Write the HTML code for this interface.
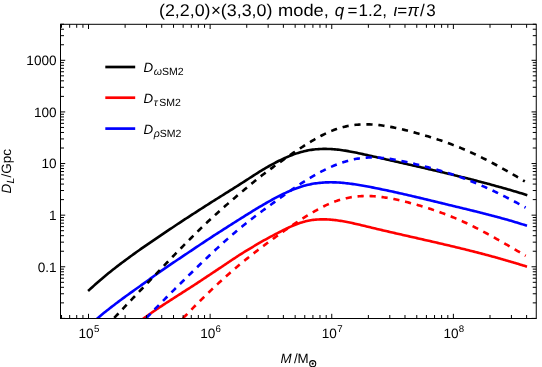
<!DOCTYPE html>
<html><head><meta charset="utf-8"><title>plot</title>
<style>
html,body{margin:0;padding:0;background:#fff;}
body{width:542px;height:367px;position:relative;overflow:hidden;font-family:"Liberation Sans",sans-serif;}
</style></head><body>
<svg width="542" height="367" viewBox="0 0 542 367" style="position:absolute;left:0;top:0;will-change:transform;text-rendering:geometricPrecision">
<defs><clipPath id="c"><rect x="60.5" y="24.3" width="475.75" height="294.2"/></clipPath></defs>
<g clip-path="url(#c)" fill="none" stroke-width="2.6" stroke-linejoin="round">
<path d="M88.10,290.98 L89.57,289.61 L91.04,288.26 L92.51,286.92 L93.98,285.59 L95.44,284.28 L96.91,282.98 L98.38,281.70 L99.85,280.43 L101.32,279.18 L102.79,277.94 L104.26,276.71 L105.73,275.49 L107.20,274.29 L108.66,273.09 L110.13,271.91 L111.60,270.74 L113.07,269.58 L114.54,268.42 L116.01,267.28 L117.48,266.15 L118.95,265.02 L120.42,263.90 L121.88,262.79 L123.35,261.69 L124.82,260.60 L126.29,259.51 L127.76,258.43 L129.23,257.35 L130.70,256.28 L132.17,255.22 L133.64,254.15 L135.10,253.10 L136.57,252.04 L138.04,251.00 L139.51,249.95 L140.98,248.91 L142.45,247.88 L143.92,246.86 L145.39,245.85 L146.86,244.84 L148.32,243.84 L149.79,242.84 L151.26,241.85 L152.73,240.85 L154.20,239.85 L155.67,238.85 L157.14,237.85 L158.61,236.86 L160.08,235.87 L161.54,234.88 L163.01,233.89 L164.48,232.90 L165.95,231.92 L167.42,230.93 L168.89,229.94 L170.36,228.95 L171.83,227.96 L173.30,226.98 L174.76,226.00 L176.23,225.02 L177.70,224.04 L179.17,223.07 L180.64,222.10 L182.11,221.13 L183.58,220.17 L185.05,219.21 L186.52,218.25 L187.98,217.29 L189.45,216.34 L190.92,215.38 L192.39,214.43 L193.86,213.49 L195.33,212.54 L196.80,211.59 L198.27,210.65 L199.74,209.71 L201.21,208.77 L202.67,207.83 L204.14,206.89 L205.61,205.95 L207.08,205.01 L208.55,204.07 L210.02,203.13 L211.49,202.20 L212.96,201.27 L214.43,200.35 L215.89,199.42 L217.36,198.50 L218.83,197.58 L220.30,196.66 L221.77,195.74 L223.24,194.82 L224.71,193.90 L226.18,192.97 L227.65,192.05 L229.11,191.13 L230.58,190.21 L232.05,189.28 L233.52,188.36 L234.99,187.43 L236.46,186.50 L237.93,185.57 L239.40,184.63 L240.87,183.70 L242.33,182.75 L243.80,181.81 L245.27,180.87 L246.74,179.92 L248.21,178.98 L249.68,178.03 L251.15,177.09 L252.62,176.14 L254.09,175.20 L255.55,174.25 L257.02,173.32 L258.49,172.39 L259.96,171.47 L261.43,170.56 L262.90,169.67 L264.37,168.79 L265.84,167.93 L267.31,167.09 L268.77,166.25 L270.24,165.43 L271.71,164.62 L273.18,163.82 L274.65,163.03 L276.12,162.26 L277.59,161.51 L279.06,160.77 L280.53,160.04 L281.99,159.34 L283.46,158.65 L284.93,157.98 L286.40,157.33 L287.87,156.70 L289.34,156.09 L290.81,155.50 L292.28,154.93 L293.75,154.39 L295.21,153.87 L296.68,153.37 L298.15,152.90 L299.62,152.45 L301.09,152.03 L302.56,151.64 L304.03,151.27 L305.50,150.93 L306.97,150.62 L308.43,150.34 L309.90,150.08 L311.37,149.85 L312.84,149.65 L314.31,149.47 L315.78,149.32 L317.25,149.19 L318.72,149.09 L320.19,149.01 L321.65,148.95 L323.12,148.91 L324.59,148.90 L326.06,148.90 L327.53,148.93 L329.00,148.98 L330.47,149.05 L331.94,149.13 L333.41,149.24 L334.87,149.36 L336.34,149.50 L337.81,149.65 L339.28,149.82 L340.75,150.01 L342.22,150.21 L343.69,150.43 L345.16,150.65 L346.63,150.89 L348.09,151.15 L349.56,151.41 L351.03,151.68 L352.50,151.96 L353.97,152.25 L355.44,152.54 L356.91,152.85 L358.38,153.16 L359.85,153.47 L361.31,153.79 L362.78,154.12 L364.25,154.45 L365.72,154.78 L367.19,155.11 L368.66,155.44 L370.13,155.77 L371.60,156.11 L373.07,156.44 L374.53,156.77 L376.00,157.10 L377.47,157.44 L378.94,157.77 L380.41,158.10 L381.88,158.43 L383.35,158.76 L384.82,159.09 L386.29,159.42 L387.75,159.76 L389.22,160.09 L390.69,160.42 L392.16,160.75 L393.63,161.08 L395.10,161.41 L396.57,161.74 L398.04,162.07 L399.51,162.41 L400.97,162.74 L402.44,163.07 L403.91,163.40 L405.38,163.74 L406.85,164.07 L408.32,164.40 L409.79,164.74 L411.26,165.07 L412.73,165.41 L414.19,165.74 L415.66,166.08 L417.13,166.41 L418.60,166.75 L420.07,167.09 L421.54,167.43 L423.01,167.76 L424.48,168.10 L425.95,168.44 L427.42,168.78 L428.88,169.13 L430.35,169.47 L431.82,169.81 L433.29,170.16 L434.76,170.50 L436.23,170.85 L437.70,171.19 L439.17,171.54 L440.64,171.89 L442.10,172.24 L443.57,172.59 L445.04,172.94 L446.51,173.29 L447.98,173.65 L449.45,174.00 L450.92,174.36 L452.39,174.72 L453.86,175.08 L455.32,175.44 L456.79,175.80 L458.26,176.16 L459.73,176.52 L461.20,176.89 L462.67,177.25 L464.14,177.62 L465.61,177.99 L467.08,178.36 L468.54,178.74 L470.01,179.11 L471.48,179.48 L472.95,179.86 L474.42,180.24 L475.89,180.62 L477.36,181.00 L478.83,181.39 L480.30,181.77 L481.76,182.16 L483.23,182.55 L484.70,182.94 L486.17,183.33 L487.64,183.72 L489.11,184.12 L490.58,184.52 L492.05,184.92 L493.52,185.32 L494.98,185.72 L496.45,186.13 L497.92,186.53 L499.39,186.94 L500.86,187.35 L502.33,187.77 L503.80,188.18 L505.27,188.60 L506.74,189.02 L508.20,189.44 L509.67,189.87 L511.14,190.29 L512.61,190.72 L514.08,191.15 L515.55,191.59 L517.02,192.02 L518.49,192.46 L519.96,192.90 L521.42,193.34 L522.89,193.79 L524.36,194.24 L525.83,194.69 L527.30,195.14" stroke="#000"/>
<path d="M93.90,321.43 L95.35,320.18 L96.80,318.93 L98.25,317.69 L99.69,316.45 L101.14,315.23 L102.59,314.03 L104.04,312.85 L105.49,311.69 L106.94,310.54 L108.38,309.40 L109.83,308.27 L111.28,307.14 L112.73,306.02 L114.18,304.91 L115.63,303.80 L117.08,302.71 L118.52,301.62 L119.97,300.54 L121.42,299.47 L122.87,298.41 L124.32,297.35 L125.77,296.29 L127.22,295.24 L128.66,294.19 L130.11,293.14 L131.56,292.10 L133.01,291.07 L134.46,290.04 L135.91,289.02 L137.35,288.00 L138.80,286.98 L140.25,285.96 L141.70,284.93 L143.15,283.90 L144.60,282.85 L146.05,281.80 L147.49,280.75 L148.94,279.69 L150.39,278.64 L151.84,277.58 L153.29,276.52 L154.74,275.48 L156.19,274.43 L157.63,273.40 L159.08,272.37 L160.53,271.36 L161.98,270.35 L163.43,269.35 L164.88,268.35 L166.32,267.36 L167.77,266.37 L169.22,265.38 L170.67,264.40 L172.12,263.42 L173.57,262.44 L175.02,261.47 L176.46,260.50 L177.91,259.53 L179.36,258.56 L180.81,257.59 L182.26,256.62 L183.71,255.65 L185.16,254.69 L186.60,253.72 L188.05,252.75 L189.50,251.78 L190.95,250.81 L192.40,249.84 L193.85,248.86 L195.29,247.90 L196.74,246.93 L198.19,245.96 L199.64,245.00 L201.09,244.04 L202.54,243.08 L203.99,242.12 L205.43,241.16 L206.88,240.20 L208.33,239.25 L209.78,238.30 L211.23,237.35 L212.68,236.40 L214.13,235.46 L215.57,234.53 L217.02,233.60 L218.47,232.67 L219.92,231.75 L221.37,230.82 L222.82,229.89 L224.26,228.97 L225.71,228.04 L227.16,227.12 L228.61,226.20 L230.06,225.27 L231.51,224.35 L232.96,223.43 L234.40,222.52 L235.85,221.60 L237.30,220.68 L238.75,219.77 L240.20,218.85 L241.65,217.94 L243.09,217.03 L244.54,216.12 L245.99,215.22 L247.44,214.31 L248.89,213.41 L250.34,212.52 L251.79,211.62 L253.23,210.73 L254.68,209.85 L256.13,208.97 L257.58,208.10 L259.03,207.23 L260.48,206.37 L261.93,205.52 L263.37,204.67 L264.82,203.83 L266.27,203.00 L267.72,202.17 L269.17,201.36 L270.62,200.55 L272.06,199.75 L273.51,198.96 L274.96,198.18 L276.41,197.42 L277.86,196.66 L279.31,195.91 L280.76,195.18 L282.20,194.46 L283.65,193.76 L285.10,193.07 L286.55,192.40 L288.00,191.74 L289.45,191.10 L290.90,190.48 L292.34,189.87 L293.79,189.29 L295.24,188.73 L296.69,188.19 L298.14,187.67 L299.59,187.17 L301.03,186.70 L302.48,186.25 L303.93,185.83 L305.38,185.43 L306.83,185.06 L308.28,184.72 L309.73,184.40 L311.17,184.11 L312.62,183.84 L314.07,183.59 L315.52,183.37 L316.97,183.17 L318.42,182.99 L319.87,182.84 L321.31,182.70 L322.76,182.59 L324.21,182.50 L325.66,182.42 L327.11,182.37 L328.56,182.33 L330.00,182.32 L331.45,182.32 L332.90,182.34 L334.35,182.37 L335.80,182.42 L337.25,182.49 L338.70,182.57 L340.14,182.67 L341.59,182.78 L343.04,182.90 L344.49,183.03 L345.94,183.18 L347.39,183.34 L348.84,183.52 L350.28,183.70 L351.73,183.89 L353.18,184.09 L354.63,184.31 L356.08,184.53 L357.53,184.76 L358.97,184.99 L360.42,185.24 L361.87,185.48 L363.32,185.74 L364.77,186.00 L366.22,186.27 L367.67,186.54 L369.11,186.81 L370.56,187.09 L372.01,187.37 L373.46,187.65 L374.91,187.94 L376.36,188.23 L377.81,188.52 L379.25,188.82 L380.70,189.11 L382.15,189.41 L383.60,189.72 L385.05,190.02 L386.50,190.33 L387.94,190.64 L389.39,190.95 L390.84,191.26 L392.29,191.58 L393.74,191.89 L395.19,192.21 L396.64,192.54 L398.08,192.86 L399.53,193.18 L400.98,193.51 L402.43,193.84 L403.88,194.17 L405.33,194.50 L406.77,194.84 L408.22,195.17 L409.67,195.51 L411.12,195.84 L412.57,196.18 L414.02,196.52 L415.47,196.86 L416.91,197.21 L418.36,197.55 L419.81,197.89 L421.26,198.24 L422.71,198.59 L424.16,198.93 L425.61,199.28 L427.05,199.63 L428.50,199.98 L429.95,200.33 L431.40,200.68 L432.85,201.03 L434.30,201.38 L435.74,201.73 L437.19,202.08 L438.64,202.43 L440.09,202.78 L441.54,203.13 L442.99,203.48 L444.44,203.84 L445.88,204.19 L447.33,204.54 L448.78,204.89 L450.23,205.24 L451.68,205.59 L453.13,205.94 L454.58,206.29 L456.02,206.64 L457.47,206.99 L458.92,207.34 L460.37,207.69 L461.82,208.04 L463.27,208.39 L464.71,208.74 L466.16,209.10 L467.61,209.45 L469.06,209.80 L470.51,210.16 L471.96,210.51 L473.41,210.87 L474.85,211.23 L476.30,211.59 L477.75,211.95 L479.20,212.31 L480.65,212.68 L482.10,213.04 L483.55,213.41 L484.99,213.78 L486.44,214.15 L487.89,214.52 L489.34,214.90 L490.79,215.28 L492.24,215.66 L493.68,216.04 L495.13,216.43 L496.58,216.81 L498.03,217.21 L499.48,217.60 L500.93,218.00 L502.38,218.40 L503.82,218.80 L505.27,219.21 L506.72,219.61 L508.17,220.03 L509.62,220.44 L511.07,220.86 L512.52,221.29 L513.96,221.72 L515.41,222.15 L516.86,222.58 L518.31,223.03 L519.76,223.47 L521.21,223.92 L522.65,224.37 L524.10,224.83 L525.55,225.29 L527.00,225.76" stroke="#00f"/>
<path d="M139.90,321.03 L141.19,320.11 L142.49,319.19 L143.78,318.27 L145.08,317.36 L146.37,316.44 L147.67,315.53 L148.96,314.61 L150.26,313.70 L151.55,312.79 L152.85,311.89 L154.14,310.99 L155.44,310.11 L156.73,309.23 L158.03,308.36 L159.32,307.50 L160.61,306.65 L161.91,305.80 L163.20,304.96 L164.50,304.11 L165.79,303.27 L167.09,302.43 L168.38,301.59 L169.68,300.75 L170.97,299.91 L172.27,299.07 L173.56,298.24 L174.86,297.41 L176.15,296.58 L177.44,295.76 L178.74,294.94 L180.03,294.11 L181.33,293.29 L182.62,292.46 L183.92,291.63 L185.21,290.80 L186.51,289.97 L187.80,289.14 L189.10,288.31 L190.39,287.48 L191.69,286.65 L192.98,285.82 L194.28,284.98 L195.57,284.15 L196.86,283.30 L198.16,282.46 L199.45,281.60 L200.75,280.74 L202.04,279.88 L203.34,279.02 L204.63,278.16 L205.93,277.30 L207.22,276.44 L208.52,275.58 L209.81,274.72 L211.11,273.86 L212.40,273.00 L213.69,272.14 L214.99,271.29 L216.28,270.43 L217.58,269.56 L218.87,268.70 L220.17,267.83 L221.46,266.96 L222.76,266.09 L224.05,265.22 L225.35,264.36 L226.64,263.50 L227.94,262.64 L229.23,261.77 L230.53,260.91 L231.82,260.04 L233.11,259.18 L234.41,258.32 L235.70,257.47 L237.00,256.62 L238.29,255.78 L239.59,254.95 L240.88,254.13 L242.18,253.32 L243.47,252.51 L244.77,251.71 L246.06,250.91 L247.36,250.12 L248.65,249.33 L249.95,248.55 L251.24,247.78 L252.53,247.01 L253.83,246.25 L255.12,245.49 L256.42,244.73 L257.71,243.98 L259.01,243.22 L260.30,242.47 L261.60,241.72 L262.89,240.97 L264.19,240.24 L265.48,239.51 L266.78,238.79 L268.07,238.08 L269.36,237.39 L270.66,236.71 L271.95,236.03 L273.25,235.35 L274.54,234.68 L275.84,234.00 L277.13,233.33 L278.43,232.66 L279.72,231.99 L281.02,231.33 L282.31,230.67 L283.61,230.03 L284.90,229.39 L286.20,228.76 L287.49,228.14 L288.78,227.53 L290.08,226.94 L291.37,226.36 L292.67,225.80 L293.96,225.25 L295.26,224.73 L296.55,224.22 L297.85,223.73 L299.14,223.27 L300.44,222.83 L301.73,222.41 L303.03,222.03 L304.32,221.66 L305.62,221.33 L306.91,221.02 L308.20,220.75 L309.50,220.50 L310.79,220.27 L312.09,220.08 L313.38,219.90 L314.68,219.76 L315.97,219.63 L317.27,219.53 L318.56,219.45 L319.86,219.40 L321.15,219.36 L322.45,219.35 L323.74,219.35 L325.03,219.37 L326.33,219.42 L327.62,219.47 L328.92,219.55 L330.21,219.64 L331.51,219.75 L332.80,219.87 L334.10,220.01 L335.39,220.16 L336.69,220.32 L337.98,220.50 L339.28,220.68 L340.57,220.88 L341.87,221.09 L343.16,221.31 L344.45,221.54 L345.75,221.78 L347.04,222.02 L348.34,222.28 L349.63,222.54 L350.93,222.81 L352.22,223.08 L353.52,223.37 L354.81,223.65 L356.11,223.94 L357.40,224.24 L358.70,224.54 L359.99,224.85 L361.28,225.15 L362.58,225.46 L363.87,225.77 L365.17,226.09 L366.46,226.40 L367.76,226.71 L369.05,227.03 L370.35,227.34 L371.64,227.65 L372.94,227.96 L374.23,228.27 L375.53,228.58 L376.82,228.89 L378.12,229.20 L379.41,229.50 L380.70,229.81 L382.00,230.11 L383.29,230.41 L384.59,230.72 L385.88,231.02 L387.18,231.32 L388.47,231.62 L389.77,231.92 L391.06,232.22 L392.36,232.52 L393.65,232.82 L394.95,233.12 L396.24,233.41 L397.54,233.71 L398.83,234.01 L400.12,234.30 L401.42,234.60 L402.71,234.90 L404.01,235.19 L405.30,235.49 L406.60,235.78 L407.89,236.08 L409.19,236.37 L410.48,236.66 L411.78,236.96 L413.07,237.25 L414.37,237.55 L415.66,237.84 L416.95,238.14 L418.25,238.43 L419.54,238.72 L420.84,239.02 L422.13,239.31 L423.43,239.61 L424.72,239.90 L426.02,240.20 L427.31,240.50 L428.61,240.79 L429.90,241.09 L431.20,241.39 L432.49,241.68 L433.79,241.98 L435.08,242.28 L436.37,242.58 L437.67,242.88 L438.96,243.18 L440.26,243.48 L441.55,243.78 L442.85,244.08 L444.14,244.39 L445.44,244.69 L446.73,244.99 L448.03,245.30 L449.32,245.61 L450.62,245.91 L451.91,246.22 L453.21,246.53 L454.50,246.84 L455.79,247.15 L457.09,247.46 L458.38,247.77 L459.68,248.09 L460.97,248.40 L462.27,248.72 L463.56,249.04 L464.86,249.36 L466.15,249.68 L467.45,250.00 L468.74,250.32 L470.04,250.64 L471.33,250.97 L472.62,251.30 L473.92,251.62 L475.21,251.95 L476.51,252.28 L477.80,252.62 L479.10,252.95 L480.39,253.29 L481.69,253.62 L482.98,253.96 L484.28,254.30 L485.57,254.65 L486.87,254.99 L488.16,255.34 L489.46,255.68 L490.75,256.03 L492.04,256.38 L493.34,256.74 L494.63,257.09 L495.93,257.45 L497.22,257.81 L498.52,258.17 L499.81,258.53 L501.11,258.90 L502.40,259.26 L503.70,259.63 L504.99,260.00 L506.29,260.38 L507.58,260.75 L508.87,261.13 L510.17,261.51 L511.46,261.89 L512.76,262.28 L514.05,262.67 L515.35,263.06 L516.64,263.45 L517.94,263.84 L519.23,264.24 L520.53,264.64 L521.82,265.04 L523.12,265.44 L524.41,265.85 L525.71,266.26 L527.00,266.67" stroke="#f00"/>
<path d="M110.80,321.62 L112.18,320.14 L113.57,318.66 L114.95,317.19 L116.34,315.71 L117.72,314.24 L119.11,312.77 L120.49,311.31 L121.88,309.84 L123.26,308.38 L124.65,306.92 L126.03,305.46 L127.42,304.00 L128.80,302.54 L130.18,301.09 L131.57,299.64 L132.95,298.18 L134.34,296.73 L135.72,295.28 L137.11,293.83 L138.49,292.38 L139.88,290.93 L141.26,289.49 L142.65,288.04 L144.03,286.59 L145.42,285.14 L146.80,283.70 L148.18,282.25 L149.57,280.80 L150.95,279.35 L152.34,277.90 L153.72,276.46 L155.11,275.01 L156.49,273.56 L157.88,272.11 L159.26,270.67 L160.65,269.22 L162.03,267.78 L163.42,266.33 L164.80,264.89 L166.18,263.45 L167.57,262.01 L168.95,260.57 L170.34,259.14 L171.72,257.70 L173.11,256.27 L174.49,254.84 L175.88,253.42 L177.26,251.99 L178.65,250.57 L180.03,249.16 L181.42,247.74 L182.80,246.33 L184.18,244.93 L185.57,243.53 L186.95,242.13 L188.34,240.73 L189.72,239.34 L191.11,237.96 L192.49,236.58 L193.88,235.20 L195.26,233.83 L196.65,232.47 L198.03,231.11 L199.42,229.75 L200.80,228.40 L202.18,227.06 L203.57,225.72 L204.95,224.39 L206.34,223.07 L207.72,221.77 L209.11,220.48 L210.49,219.20 L211.88,217.93 L213.26,216.68 L214.65,215.43 L216.03,214.18 L217.42,212.94 L218.80,211.70 L220.18,210.47 L221.57,209.24 L222.95,208.01 L224.34,206.80 L225.72,205.59 L227.11,204.38 L228.49,203.19 L229.88,201.99 L231.26,200.80 L232.65,199.61 L234.03,198.43 L235.42,197.25 L236.80,196.06 L238.18,194.89 L239.57,193.71 L240.95,192.54 L242.34,191.37 L243.72,190.21 L245.11,189.05 L246.49,187.90 L247.88,186.76 L249.26,185.62 L250.65,184.49 L252.03,183.35 L253.42,182.22 L254.80,181.09 L256.18,179.96 L257.57,178.85 L258.95,177.74 L260.34,176.65 L261.72,175.59 L263.11,174.53 L264.49,173.49 L265.88,172.45 L267.26,171.42 L268.65,170.39 L270.03,169.36 L271.42,168.34 L272.80,167.33 L274.18,166.32 L275.57,165.31 L276.95,164.31 L278.34,163.31 L279.72,162.32 L281.11,161.33 L282.49,160.35 L283.88,159.37 L285.26,158.40 L286.65,157.44 L288.03,156.48 L289.42,155.52 L290.80,154.57 L292.18,153.63 L293.57,152.69 L294.95,151.76 L296.34,150.84 L297.72,149.93 L299.11,149.02 L300.49,148.11 L301.88,147.22 L303.26,146.33 L304.65,145.45 L306.03,144.58 L307.42,143.72 L308.80,142.86 L310.18,142.02 L311.57,141.18 L312.95,140.36 L314.34,139.55 L315.72,138.76 L317.11,137.98 L318.49,137.21 L319.88,136.46 L321.26,135.73 L322.65,135.02 L324.03,134.32 L325.42,133.64 L326.80,132.99 L328.18,132.36 L329.57,131.74 L330.95,131.16 L332.34,130.59 L333.72,130.05 L335.11,129.54 L336.49,129.05 L337.88,128.59 L339.26,128.16 L340.65,127.75 L342.03,127.36 L343.42,127.00 L344.80,126.67 L346.18,126.36 L347.57,126.07 L348.95,125.81 L350.34,125.56 L351.72,125.35 L353.11,125.15 L354.49,124.97 L355.88,124.82 L357.26,124.69 L358.65,124.58 L360.03,124.49 L361.42,124.42 L362.80,124.37 L364.18,124.34 L365.57,124.33 L366.95,124.33 L368.34,124.36 L369.72,124.40 L371.11,124.46 L372.49,124.54 L373.88,124.63 L375.26,124.74 L376.65,124.86 L378.03,125.00 L379.42,125.15 L380.80,125.32 L382.18,125.50 L383.57,125.70 L384.95,125.91 L386.34,126.12 L387.72,126.36 L389.11,126.60 L390.49,126.85 L391.88,127.12 L393.26,127.39 L394.65,127.67 L396.03,127.97 L397.42,128.27 L398.80,128.58 L400.18,128.89 L401.57,129.22 L402.95,129.55 L404.34,129.88 L405.72,130.23 L407.11,130.58 L408.49,130.93 L409.88,131.29 L411.26,131.65 L412.65,132.01 L414.03,132.38 L415.42,132.76 L416.80,133.14 L418.18,133.52 L419.57,133.91 L420.95,134.30 L422.34,134.70 L423.72,135.10 L425.11,135.51 L426.49,135.92 L427.88,136.34 L429.26,136.76 L430.65,137.19 L432.03,137.62 L433.42,138.06 L434.80,138.50 L436.18,138.95 L437.57,139.41 L438.95,139.87 L440.34,140.34 L441.72,140.81 L443.11,141.29 L444.49,141.78 L445.88,142.27 L447.26,142.77 L448.65,143.28 L450.03,143.79 L451.42,144.31 L452.80,144.84 L454.18,145.37 L455.57,145.91 L456.95,146.46 L458.34,147.01 L459.72,147.57 L461.11,148.14 L462.49,148.72 L463.88,149.31 L465.26,149.90 L466.65,150.50 L468.03,151.11 L469.42,151.73 L470.80,152.35 L472.18,152.98 L473.57,153.62 L474.95,154.27 L476.34,154.92 L477.72,155.58 L479.11,156.25 L480.49,156.92 L481.88,157.60 L483.26,158.29 L484.65,158.98 L486.03,159.68 L487.42,160.39 L488.80,161.10 L490.18,161.82 L491.57,162.54 L492.95,163.27 L494.34,164.01 L495.72,164.75 L497.11,165.50 L498.49,166.25 L499.88,167.01 L501.26,167.77 L502.65,168.54 L504.03,169.31 L505.42,170.09 L506.80,170.87 L508.18,171.66 L509.57,172.45 L510.95,173.25 L512.34,174.05 L513.72,174.86 L515.11,175.67 L516.49,176.48 L517.88,177.30 L519.26,178.12 L520.65,178.95 L522.03,179.78 L523.42,180.61 L524.80,181.44" stroke="#000" stroke-dasharray="6.2 5.8" stroke-dashoffset="7.0"/>
<path d="M142.80,321.77 L144.08,320.42 L145.36,319.08 L146.64,317.74 L147.92,316.41 L149.20,315.08 L150.48,313.75 L151.76,312.42 L153.04,311.10 L154.32,309.78 L155.60,308.46 L156.88,307.15 L158.16,305.84 L159.44,304.53 L160.72,303.22 L162.00,301.92 L163.28,300.62 L164.56,299.33 L165.84,298.03 L167.13,296.74 L168.41,295.45 L169.69,294.17 L170.97,292.88 L172.25,291.60 L173.53,290.33 L174.81,289.05 L176.09,287.78 L177.37,286.51 L178.65,285.24 L179.93,283.98 L181.21,282.72 L182.49,281.46 L183.77,280.20 L185.05,278.94 L186.33,277.69 L187.61,276.44 L188.89,275.19 L190.17,273.95 L191.45,272.70 L192.73,271.46 L194.01,270.22 L195.29,268.99 L196.57,267.75 L197.85,266.52 L199.13,265.29 L200.41,264.06 L201.69,262.84 L202.97,261.61 L204.25,260.39 L205.53,259.17 L206.81,257.96 L208.09,256.75 L209.37,255.54 L210.65,254.34 L211.93,253.14 L213.21,251.94 L214.49,250.75 L215.78,249.56 L217.06,248.38 L218.34,247.20 L219.62,246.03 L220.90,244.86 L222.18,243.70 L223.46,242.54 L224.74,241.39 L226.02,240.25 L227.30,239.12 L228.58,237.99 L229.86,236.86 L231.14,235.75 L232.42,234.64 L233.70,233.54 L234.98,232.45 L236.26,231.36 L237.54,230.29 L238.82,229.22 L240.10,228.16 L241.38,227.11 L242.66,226.07 L243.94,225.03 L245.22,224.01 L246.50,222.99 L247.78,221.98 L249.06,220.98 L250.34,219.98 L251.62,218.99 L252.90,218.00 L254.18,217.03 L255.46,216.05 L256.74,215.09 L258.02,214.12 L259.30,213.17 L260.58,212.21 L261.86,211.26 L263.15,210.32 L264.43,209.38 L265.71,208.44 L266.99,207.50 L268.27,206.57 L269.55,205.63 L270.83,204.70 L272.11,203.78 L273.39,202.85 L274.67,201.92 L275.95,201.00 L277.23,200.07 L278.51,199.15 L279.79,198.23 L281.07,197.31 L282.35,196.39 L283.63,195.48 L284.91,194.57 L286.19,193.66 L287.47,192.76 L288.75,191.86 L290.03,190.97 L291.31,190.08 L292.59,189.19 L293.87,188.32 L295.15,187.44 L296.43,186.58 L297.71,185.72 L298.99,184.87 L300.27,184.03 L301.55,183.19 L302.83,182.37 L304.11,181.55 L305.39,180.74 L306.67,179.94 L307.95,179.15 L309.23,178.37 L310.52,177.61 L311.80,176.85 L313.08,176.10 L314.36,175.36 L315.64,174.64 L316.92,173.93 L318.20,173.22 L319.48,172.54 L320.76,171.86 L322.04,171.19 L323.32,170.54 L324.60,169.90 L325.88,169.28 L327.16,168.67 L328.44,168.07 L329.72,167.48 L331.00,166.91 L332.28,166.36 L333.56,165.82 L334.84,165.29 L336.12,164.78 L337.40,164.28 L338.68,163.80 L339.96,163.34 L341.24,162.89 L342.52,162.46 L343.80,162.04 L345.08,161.64 L346.36,161.26 L347.64,160.90 L348.92,160.55 L350.20,160.22 L351.48,159.91 L352.76,159.61 L354.04,159.34 L355.32,159.08 L356.60,158.84 L357.88,158.62 L359.17,158.41 L360.45,158.23 L361.73,158.07 L363.01,157.92 L364.29,157.80 L365.57,157.70 L366.85,157.61 L368.13,157.55 L369.41,157.50 L370.69,157.47 L371.97,157.46 L373.25,157.47 L374.53,157.49 L375.81,157.53 L377.09,157.59 L378.37,157.66 L379.65,157.75 L380.93,157.85 L382.21,157.96 L383.49,158.09 L384.77,158.23 L386.05,158.38 L387.33,158.55 L388.61,158.72 L389.89,158.91 L391.17,159.11 L392.45,159.31 L393.73,159.53 L395.01,159.76 L396.29,159.99 L397.57,160.23 L398.85,160.48 L400.13,160.73 L401.41,161.00 L402.69,161.26 L403.97,161.53 L405.25,161.81 L406.54,162.09 L407.82,162.38 L409.10,162.67 L410.38,162.96 L411.66,163.25 L412.94,163.55 L414.22,163.85 L415.50,164.15 L416.78,164.45 L418.06,164.76 L419.34,165.07 L420.62,165.38 L421.90,165.70 L423.18,166.02 L424.46,166.34 L425.74,166.67 L427.02,167.00 L428.30,167.33 L429.58,167.67 L430.86,168.01 L432.14,168.36 L433.42,168.70 L434.70,169.06 L435.98,169.42 L437.26,169.78 L438.54,170.14 L439.82,170.51 L441.10,170.89 L442.38,171.27 L443.66,171.65 L444.94,172.04 L446.22,172.44 L447.50,172.83 L448.78,173.24 L450.06,173.65 L451.34,174.06 L452.62,174.48 L453.91,174.91 L455.19,175.34 L456.47,175.78 L457.75,176.22 L459.03,176.67 L460.31,177.12 L461.59,177.58 L462.87,178.05 L464.15,178.52 L465.43,179.00 L466.71,179.49 L467.99,179.98 L469.27,180.48 L470.55,180.98 L471.83,181.49 L473.11,182.01 L474.39,182.53 L475.67,183.06 L476.95,183.59 L478.23,184.13 L479.51,184.68 L480.79,185.23 L482.07,185.79 L483.35,186.35 L484.63,186.92 L485.91,187.49 L487.19,188.07 L488.47,188.65 L489.75,189.24 L491.03,189.83 L492.31,190.43 L493.59,191.04 L494.87,191.65 L496.15,192.26 L497.43,192.88 L498.71,193.51 L499.99,194.13 L501.27,194.77 L502.56,195.41 L503.84,196.05 L505.12,196.69 L506.40,197.35 L507.68,198.00 L508.96,198.66 L510.24,199.33 L511.52,199.99 L512.80,200.67 L514.08,201.34 L515.36,202.02 L516.64,202.71 L517.92,203.40 L519.20,204.09 L520.48,204.78 L521.76,205.48 L523.04,206.19 L524.32,206.89 L525.60,207.60" stroke="#00f" stroke-dasharray="6.2 5.8" stroke-dashoffset="7.0"/>
<path d="M179.90,321.56 L181.06,320.34 L182.21,319.12 L183.37,317.91 L184.53,316.70 L185.68,315.49 L186.84,314.29 L188.00,313.10 L189.15,311.91 L190.31,310.72 L191.47,309.54 L192.62,308.36 L193.78,307.18 L194.93,306.01 L196.09,304.85 L197.25,303.69 L198.40,302.53 L199.56,301.38 L200.72,300.23 L201.87,299.09 L203.03,297.95 L204.19,296.82 L205.34,295.69 L206.50,294.57 L207.66,293.45 L208.81,292.34 L209.97,291.23 L211.13,290.13 L212.28,289.03 L213.44,287.94 L214.60,286.85 L215.75,285.77 L216.91,284.69 L218.07,283.62 L219.22,282.55 L220.38,281.49 L221.53,280.43 L222.69,279.38 L223.85,278.34 L225.00,277.30 L226.16,276.26 L227.32,275.23 L228.47,274.21 L229.63,273.19 L230.79,272.18 L231.94,271.17 L233.10,270.17 L234.26,269.18 L235.41,268.19 L236.57,267.21 L237.73,266.23 L238.88,265.26 L240.04,264.29 L241.20,263.33 L242.35,262.38 L243.51,261.43 L244.67,260.49 L245.82,259.55 L246.98,258.62 L248.13,257.70 L249.29,256.78 L250.45,255.86 L251.60,254.95 L252.76,254.05 L253.92,253.15 L255.07,252.25 L256.23,251.36 L257.39,250.47 L258.54,249.59 L259.70,248.71 L260.86,247.83 L262.01,246.96 L263.17,246.10 L264.33,245.23 L265.48,244.38 L266.64,243.52 L267.80,242.67 L268.95,241.82 L270.11,240.97 L271.27,240.13 L272.42,239.29 L273.58,238.45 L274.73,237.62 L275.89,236.78 L277.05,235.96 L278.20,235.13 L279.36,234.31 L280.52,233.48 L281.67,232.67 L282.83,231.85 L283.99,231.04 L285.14,230.24 L286.30,229.43 L287.46,228.63 L288.61,227.84 L289.77,227.04 L290.93,226.26 L292.08,225.47 L293.24,224.69 L294.40,223.92 L295.55,223.15 L296.71,222.38 L297.87,221.62 L299.02,220.87 L300.18,220.12 L301.33,219.37 L302.49,218.63 L303.65,217.90 L304.80,217.17 L305.96,216.44 L307.12,215.73 L308.27,215.01 L309.43,214.31 L310.59,213.61 L311.74,212.93 L312.90,212.25 L314.06,211.57 L315.21,210.91 L316.37,210.26 L317.53,209.62 L318.68,208.99 L319.84,208.37 L321.00,207.76 L322.15,207.16 L323.31,206.58 L324.47,206.01 L325.62,205.45 L326.78,204.91 L327.93,204.38 L329.09,203.87 L330.25,203.37 L331.40,202.89 L332.56,202.42 L333.72,201.97 L334.87,201.54 L336.03,201.12 L337.19,200.72 L338.34,200.34 L339.50,199.98 L340.66,199.64 L341.81,199.31 L342.97,199.00 L344.13,198.70 L345.28,198.42 L346.44,198.16 L347.60,197.91 L348.75,197.68 L349.91,197.46 L351.07,197.27 L352.22,197.08 L353.38,196.91 L354.53,196.76 L355.69,196.62 L356.85,196.49 L358.00,196.38 L359.16,196.29 L360.32,196.21 L361.47,196.14 L362.63,196.09 L363.79,196.05 L364.94,196.02 L366.10,196.01 L367.26,196.01 L368.41,196.02 L369.57,196.05 L370.73,196.09 L371.88,196.14 L373.04,196.20 L374.20,196.28 L375.35,196.36 L376.51,196.46 L377.67,196.56 L378.82,196.68 L379.98,196.81 L381.13,196.95 L382.29,197.10 L383.45,197.25 L384.60,197.42 L385.76,197.60 L386.92,197.78 L388.07,197.98 L389.23,198.18 L390.39,198.39 L391.54,198.61 L392.70,198.83 L393.86,199.06 L395.01,199.30 L396.17,199.55 L397.33,199.80 L398.48,200.06 L399.64,200.32 L400.80,200.59 L401.95,200.87 L403.11,201.15 L404.27,201.44 L405.42,201.73 L406.58,202.03 L407.73,202.32 L408.89,202.63 L410.05,202.94 L411.20,203.25 L412.36,203.56 L413.52,203.88 L414.67,204.20 L415.83,204.53 L416.99,204.85 L418.14,205.19 L419.30,205.52 L420.46,205.86 L421.61,206.21 L422.77,206.56 L423.93,206.91 L425.08,207.26 L426.24,207.63 L427.40,207.99 L428.55,208.36 L429.71,208.73 L430.87,209.11 L432.02,209.49 L433.18,209.88 L434.33,210.27 L435.49,210.67 L436.65,211.07 L437.80,211.47 L438.96,211.88 L440.12,212.30 L441.27,212.72 L442.43,213.14 L443.59,213.57 L444.74,214.01 L445.90,214.45 L447.06,214.89 L448.21,215.34 L449.37,215.80 L450.53,216.26 L451.68,216.72 L452.84,217.19 L454.00,217.67 L455.15,218.15 L456.31,218.64 L457.47,219.13 L458.62,219.63 L459.78,220.14 L460.93,220.65 L462.09,221.17 L463.25,221.69 L464.40,222.22 L465.56,222.75 L466.72,223.29 L467.87,223.84 L469.03,224.39 L470.19,224.95 L471.34,225.51 L472.50,226.08 L473.66,226.65 L474.81,227.23 L475.97,227.82 L477.13,228.40 L478.28,229.00 L479.44,229.59 L480.60,230.20 L481.75,230.80 L482.91,231.41 L484.07,232.03 L485.22,232.65 L486.38,233.27 L487.53,233.90 L488.69,234.53 L489.85,235.16 L491.00,235.79 L492.16,236.43 L493.32,237.08 L494.47,237.72 L495.63,238.37 L496.79,239.02 L497.94,239.67 L499.10,240.33 L500.26,240.99 L501.41,241.65 L502.57,242.31 L503.73,242.97 L504.88,243.64 L506.04,244.30 L507.20,244.97 L508.35,245.64 L509.51,246.31 L510.67,246.98 L511.82,247.66 L512.98,248.33 L514.13,249.01 L515.29,249.68 L516.45,250.36 L517.60,251.03 L518.76,251.71 L519.92,252.38 L521.07,253.06 L522.23,253.73 L523.39,254.41 L524.54,255.08 L525.70,255.76" stroke="#f00" stroke-dasharray="6.2 5.8" stroke-dashoffset="7.5"/>
</g>
<path d="M61.52,318.50V315.00M61.52,24.30V27.80M69.66,318.50V315.00M69.66,24.30V27.80M76.71,318.50V315.00M76.71,24.30V27.80M82.93,318.50V315.00M82.93,24.30V27.80M88.50,318.50V313.80M88.50,24.30V29.00M125.11,318.50V315.00M125.11,24.30V27.80M146.53,318.50V315.00M146.53,24.30V27.80M161.73,318.50V315.00M161.73,24.30V27.80M173.52,318.50V315.00M173.52,24.30V27.80M183.15,318.50V315.00M183.15,24.30V27.80M191.29,318.50V315.00M191.29,24.30V27.80M198.34,318.50V315.00M198.34,24.30V27.80M204.56,318.50V315.00M204.56,24.30V27.80M210.13,318.50V313.80M210.13,24.30V29.00M246.74,318.50V315.00M246.74,24.30V27.80M268.16,318.50V315.00M268.16,24.30V27.80M283.36,318.50V315.00M283.36,24.30V27.80M295.15,318.50V315.00M295.15,24.30V27.80M304.78,318.50V315.00M304.78,24.30V27.80M312.92,318.50V315.00M312.92,24.30V27.80M319.97,318.50V315.00M319.97,24.30V27.80M326.19,318.50V315.00M326.19,24.30V27.80M331.76,318.50V313.80M331.76,24.30V29.00M368.37,318.50V315.00M368.37,24.30V27.80M389.79,318.50V315.00M389.79,24.30V27.80M404.99,318.50V315.00M404.99,24.30V27.80M416.78,318.50V315.00M416.78,24.30V27.80M426.41,318.50V315.00M426.41,24.30V27.80M434.55,318.50V315.00M434.55,24.30V27.80M441.60,318.50V315.00M441.60,24.30V27.80M447.82,318.50V315.00M447.82,24.30V27.80M453.39,318.50V313.80M453.39,24.30V29.00M490.00,318.50V315.00M490.00,24.30V27.80M511.42,318.50V315.00M511.42,24.30V27.80M526.62,318.50V315.00M526.62,24.30V27.80M60.50,318.40H65.20M536.25,318.40H531.55M60.50,302.86H64.00M536.25,302.86H532.75M60.50,293.77H64.00M536.25,293.77H532.75M60.50,287.32H64.00M536.25,287.32H532.75M60.50,282.32H64.00M536.25,282.32H532.75M60.50,278.23H64.00M536.25,278.23H532.75M60.50,274.78H64.00M536.25,274.78H532.75M60.50,271.78H64.00M536.25,271.78H532.75M60.50,269.14H64.00M536.25,269.14H532.75M60.50,266.78H65.20M536.25,266.78H531.55M60.50,251.24H64.00M536.25,251.24H532.75M60.50,242.15H64.00M536.25,242.15H532.75M60.50,235.70H64.00M536.25,235.70H532.75M60.50,230.70H64.00M536.25,230.70H532.75M60.50,226.61H64.00M536.25,226.61H532.75M60.50,223.16H64.00M536.25,223.16H532.75M60.50,220.16H64.00M536.25,220.16H532.75M60.50,217.52H64.00M536.25,217.52H532.75M60.50,215.16H65.20M536.25,215.16H531.55M60.50,199.62H64.00M536.25,199.62H532.75M60.50,190.53H64.00M536.25,190.53H532.75M60.50,184.08H64.00M536.25,184.08H532.75M60.50,179.08H64.00M536.25,179.08H532.75M60.50,174.99H64.00M536.25,174.99H532.75M60.50,171.54H64.00M536.25,171.54H532.75M60.50,168.54H64.00M536.25,168.54H532.75M60.50,165.90H64.00M536.25,165.90H532.75M60.50,163.54H65.20M536.25,163.54H531.55M60.50,148.00H64.00M536.25,148.00H532.75M60.50,138.91H64.00M536.25,138.91H532.75M60.50,132.46H64.00M536.25,132.46H532.75M60.50,127.46H64.00M536.25,127.46H532.75M60.50,123.37H64.00M536.25,123.37H532.75M60.50,119.92H64.00M536.25,119.92H532.75M60.50,116.92H64.00M536.25,116.92H532.75M60.50,114.28H64.00M536.25,114.28H532.75M60.50,111.92H65.20M536.25,111.92H531.55M60.50,96.38H64.00M536.25,96.38H532.75M60.50,87.29H64.00M536.25,87.29H532.75M60.50,80.84H64.00M536.25,80.84H532.75M60.50,75.84H64.00M536.25,75.84H532.75M60.50,71.75H64.00M536.25,71.75H532.75M60.50,68.30H64.00M536.25,68.30H532.75M60.50,65.30H64.00M536.25,65.30H532.75M60.50,62.66H64.00M536.25,62.66H532.75M60.50,60.30H65.20M536.25,60.30H531.55M60.50,44.76H64.00M536.25,44.76H532.75M60.50,35.67H64.00M536.25,35.67H532.75M60.50,29.22H64.00M536.25,29.22H532.75M60.50,24.22H64.00M536.25,24.22H532.75" stroke="#000" stroke-width="1.0" fill="none"/>
<rect x="60.5" y="24.3" width="475.75" height="294.2" fill="none" stroke="#000" stroke-width="1.0"/>
<g style="font-family:'Liberation Sans',sans-serif" font-size="13.6" fill="#000">
<text x="56.6" y="65.10" text-anchor="end">1000</text>
<text x="56.6" y="116.72" text-anchor="end">100</text>
<text x="56.6" y="168.34" text-anchor="end">10</text>
<text x="56.6" y="219.96" text-anchor="end">1</text>
<text x="56.6" y="271.58" text-anchor="end">0.1</text>
<text x="78.50" y="337.5">10<tspan font-size="9.7" dy="-5.7" dx="0.3">5</tspan></text>
<text x="200.13" y="337.5">10<tspan font-size="9.7" dy="-5.7" dx="0.3">6</tspan></text>
<text x="321.76" y="337.5">10<tspan font-size="9.7" dy="-5.7" dx="0.3">7</tspan></text>
<text x="443.39" y="337.5">10<tspan font-size="9.7" dy="-5.7" dx="0.3">8</tspan></text>
</g>

<g style="font-family:'Liberation Sans',sans-serif" fill="#000" font-size="17">
<text x="158.95" y="16.4" textLength="51.62" lengthAdjust="spacingAndGlyphs">(2,2,0)</text>
<text x="211.05" y="16.4">×</text>
<text x="220.75" y="16.4" textLength="51.72" lengthAdjust="spacingAndGlyphs">(3,3,0)</text>
<text x="277.99" y="16.4" textLength="50.82" lengthAdjust="spacingAndGlyphs">mode,</text>
<text x="334.76" y="16.4" font-style="italic">q</text>
<text x="347.45" y="16.4">=</text>
<text x="358.57" y="16.4">1.2,</text>
<text x="393.6" y="16.4" font-style="italic">ι</text>
<text x="397.35" y="16.4">=</text>
<text x="407.6" y="16.4" font-style="italic">π</text>
<text x="420.1" y="16.4">/</text>
<text x="426.26" y="16.4">3</text>
</g>
<g style="font-family:'Liberation Sans',sans-serif" fill="#000" font-size="13.33">
<text x="280.6" y="363.2" ><tspan font-style="italic">M</tspan><tspan dx="2.2">/M</tspan></text>
<circle cx="312.7" cy="363.7" r="3.05" fill="none" stroke="#000" stroke-width="1.1"/><circle cx="312.7" cy="363.7" r="1.1" fill="#000"/>
<text transform="translate(11.3,193.5) rotate(-90)" font-size="13.5"><tspan font-style="italic">D</tspan><tspan font-style="italic" font-size="10.5" dy="2.6" dx="0.3">L</tspan><tspan dy="-2.6">/Gpc</tspan></text>
</g>
<g stroke-width="2.7" fill="none">
<path d="M105.3,67H135.2" stroke="#000"/>
<path d="M105.3,97.7H135.2" stroke="#f00"/>
<path d="M105.3,128.6H135.2" stroke="#00f"/>
</g>
<g style="font-family:'Liberation Sans',sans-serif" fill="#000" font-size="13.33">
<text x="143.4" y="72.3"><tspan font-style="italic">D</tspan><tspan font-size="10.5" dy="2.8" dx="0.7"><tspan font-style="italic">ω</tspan>SM2</tspan></text>
<text x="143.4" y="103.0"><tspan font-style="italic">D</tspan><tspan font-size="10.5" dy="2.8" dx="0.7"><tspan font-style="italic">τ</tspan><tspan dx="1.5">SM2</tspan></tspan></text>
<text x="143.4" y="133.8"><tspan font-style="italic">D</tspan><tspan font-size="10.5" dy="2.8" dx="0.7"><tspan font-style="italic">ρ</tspan>SM2</tspan></text>
</g>

</svg>
</body></html>
